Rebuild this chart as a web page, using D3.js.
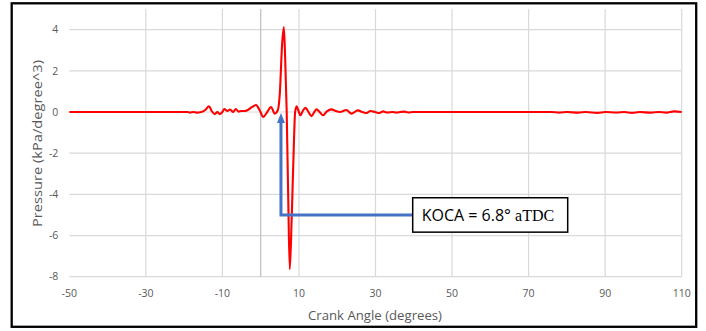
<!DOCTYPE html>
<html>
<head>
<meta charset="utf-8">
<script src="https://cdn.jsdelivr.net/npm/d3@7"></script>
<style>
  body { margin: 0; background: #fff; }
  svg { display: block; }
</style>
</head>
<body>
<div id="chart"></div>
<script>
// global const
const width = 706, height = 331;
const margin = { left: 69.3, right: 24.3, top: 9.1, bottom: 54.3 };
const colors = { line: "#ff0000", grid: "#d9d9d9", axis: "#bfbfbf", text: "#595959", arrow: "#4472c4" };

// data
const crankAngle = [
  -50, -19, -18.5, -17.5, -16.8, -15.5, -14.5, -13.5, -12.8, -12, -11.3, -10.7, -10,
  -9.5, -8.7, -8, -7.2, -6.5, -5.8, -5, -4, -3.2, -2.2, -1.2, -0.3, 0.7, 1.7, 2.7,
  3.7, 4.5, 5.0, 5.6, 6.06, 6.4, 6.8, 7.2, 7.6, 8.1, 8.6, 9.0, 9.4, 9.8, 10.4, 11.0,
  11.7, 12.5, 13.3, 14.0, 14.6, 15.4, 16.3, 17.3, 18.5, 19.6, 20.7, 22.4, 23.7, 25.4,
  26.5, 27.5, 28.7, 29.9, 31, 32, 33, 34.5, 35.5, 36.5, 37.5, 38.5, 39.8,
  76, 78, 80, 83, 85, 88, 90, 93, 95, 97, 99, 102, 104, 106, 108, 110
];
const pressure = [
  0, 0, -0.03, 0, -0.03, 0, 0.1, 0.28, 0.05, -0.1, 0, -0.1, 0,
  0.15, 0.05, 0.12, 0, 0.15, 0.02, 0.05, 0.05, 0.12, 0.25, 0.34, 0.1, -0.24, 0, 0.24,
  -0.08, 0.1, 0.9, 3.3, 4.13, 2.6, 0, -4.2, -7.64, -5.2, -2, 0, 0.28, 0.1, -0.16, 0.05,
  0.2, 0, -0.2, 0, 0.13, 0, -0.16, 0.03, 0.13, 0.05, 0, 0.1, -0.08, 0.08,
  0, -0.05, 0.05, 0, -0.05, 0.03, -0.02, 0, -0.03, 0, 0.02, -0.02, 0,
  0, -0.03, 0, -0.03, 0, -0.04, 0, -0.02, 0, -0.04, 0, -0.03, 0, -0.03, 0.03, 0
];
const xTicks = [-50, -30, -10, 10, 30, 50, 70, 90, 110];
const yTicks = [-8, -6, -4, -2, 0, 2, 4];
const xDomain = [-50, 110], yDomain = [-8, 5];

// annotation (data coords)
const kocaAngle = 5.3, kocaLevel = -5, kocaTip = 0;
const kocaLabel = "KOCA = 6.8° ";
const kocaUnit = "aTDC";

const svg = d3.select("#chart")
  .append("svg")
  .attr("width", width)
  .attr("height", height)
  .style("background-color", "#fff");

const xScale = d3.scaleLinear()
  .domain(xDomain)
  .range([margin.left, width - margin.right]);

const yScale = d3.scaleLinear()
  .domain(yDomain)
  .range([height - margin.bottom, margin.top]);

// gridlines
svg.append("g")
  .selectAll("line")
  .data(yTicks)
  .join("line")
  .attr("x1", xScale(xDomain[0]))
  .attr("x2", xScale(xDomain[1]))
  .attr("y1", d => yScale(d))
  .attr("y2", d => yScale(d))
  .attr("stroke", colors.grid)
  .attr("stroke-width", 1.2);

svg.append("g")
  .selectAll("line")
  .data(xTicks.filter(d => d > xDomain[0]))
  .join("line")
  .attr("x1", d => xScale(d))
  .attr("x2", d => xScale(d))
  .attr("y1", yScale(yDomain[0]))
  .attr("y2", yScale(yDomain[1]))
  .attr("stroke", colors.grid)
  .attr("stroke-width", 1.2);

// vertical axis line at TDC
svg.append("line")
  .attr("x1", xScale(0))
  .attr("x2", xScale(0))
  .attr("y1", yScale(yDomain[0]))
  .attr("y2", yScale(yDomain[1]))
  .attr("stroke", colors.axis)
  .attr("stroke-width", 1.2);

// tick labels
svg.append("g")
  .selectAll("text")
  .data(xTicks)
  .join("text")
  .attr("x", d => xScale(d))
  .attr("y", yScale(yDomain[0]) + 20)
  .attr("text-anchor", "middle")
  .attr("font-family", "Open Sans, sans-serif")
  .attr("font-size", 10.5)
  .attr("fill", colors.text)
  .text(d => d);

svg.append("g")
  .selectAll("text")
  .data(yTicks)
  .join("text")
  .attr("x", xScale(xDomain[0]) - 11)
  .attr("y", d => yScale(d))
  .attr("dy", "0.35em")
  .attr("text-anchor", "end")
  .attr("font-family", "Open Sans, sans-serif")
  .attr("font-size", 10.5)
  .attr("fill", colors.text)
  .text(d => d);

// axis titles
svg.append("text")
  .attr("x", 375)
  .attr("y", 319.5)
  .attr("text-anchor", "middle")
  .attr("font-family", "Open Sans, sans-serif")
  .attr("font-size", 13)
  .attr("textLength", 134)
  .attr("lengthAdjust", "spacingAndGlyphs")
  .attr("fill", colors.text)
  .text("Crank Angle (degrees)");

svg.append("text")
  .attr("transform", "translate(41.5, 143.5) rotate(-90)")
  .attr("text-anchor", "middle")
  .attr("font-family", "Open Sans, sans-serif")
  .attr("font-size", 13.5)
  .attr("textLength", 167)
  .attr("lengthAdjust", "spacingAndGlyphs")
  .attr("fill", colors.text)
  .text("Pressure (kPa/degree^3)");

// pressure trace
const points = crankAngle.map((a, i) => [a, pressure[i]]);
const line = d3.line()
  .x(d => xScale(d[0]))
  .y(d => yScale(d[1]))
  .curve(d3.curveMonotoneX);

svg.append("path")
  .datum(points)
  .attr("d", line)
  .attr("fill", "none")
  .attr("stroke", colors.line)
  .attr("stroke-width", 2.1)
  .attr("stroke-linejoin", "round");

// KOCA arrow
const ax = xScale(kocaAngle), ay = yScale(kocaLevel), tipY = yScale(kocaTip) + 1;
const boxX = 412.7, boxW = 155, boxH = 34.4;

svg.append("path")
  .attr("d", `M ${boxX} ${ay} H ${ax} V ${tipY + 9}`)
  .attr("fill", "none")
  .attr("stroke", colors.arrow)
  .attr("stroke-width", 3);

svg.append("path")
  .attr("d", `M ${ax} ${tipY} L ${ax - 4} ${tipY + 10} L ${ax + 4} ${tipY + 10} Z`)
  .attr("fill", colors.arrow);

// label box
svg.append("rect")
  .attr("x", boxX)
  .attr("y", ay - boxH / 2)
  .attr("width", boxW)
  .attr("height", boxH)
  .attr("fill", "#fff")
  .attr("stroke", "#000")
  .attr("stroke-width", 1.5);

const label = svg.append("text")
  .attr("x", boxX + 9)
  .attr("y", ay + 6.5)
  .attr("font-size", 16)
  .attr("fill", "#000");
label.append("tspan")
  .attr("font-family", "Open Sans, sans-serif")
  .text(kocaLabel);
label.append("tspan")
  .attr("font-family", "Liberation Serif, serif")
  .text(kocaUnit);

// outer frame
svg.append("rect")
  .attr("x", 11.7)
  .attr("y", 3.3)
  .attr("width", 684.5)
  .attr("height", 323.5)
  .attr("fill", "none")
  .attr("stroke", "#000")
  .attr("stroke-width", 2.3);
</script>
</body>
</html>
